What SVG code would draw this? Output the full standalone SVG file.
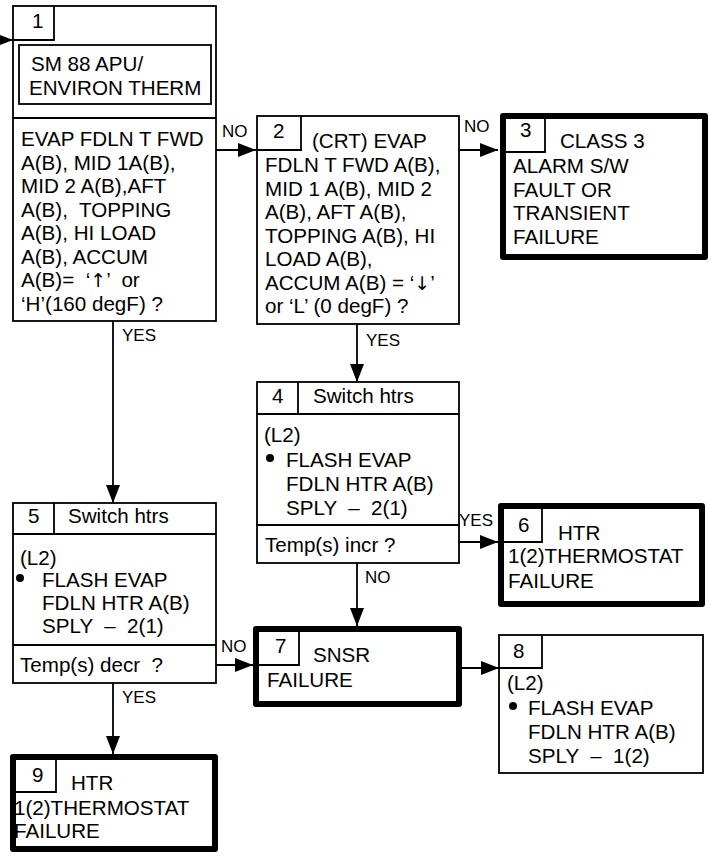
<svg xmlns="http://www.w3.org/2000/svg" width="711" height="856" viewBox="0 0 711 856">
<style>
text{font-family:"Liberation Sans",Arial,sans-serif;font-size:20.6px;fill:#000;white-space:pre}
.lbl{font-size:17px}
.ar{font-family:"DejaVu Sans",sans-serif;font-size:19px}
.b{fill:#fff;stroke:#000;stroke-width:1.8}
.n{fill:none;stroke:#000;stroke-width:1.8}
.t{fill:#fff;stroke:#000;stroke-width:6;stroke-linejoin:round}
.c{fill:none;stroke:#000;stroke-width:1.8}
</style>
<defs>
<marker id="ah" markerUnits="userSpaceOnUse" markerWidth="18" markerHeight="14" refX="18" refY="7" orient="auto">
<path d="M0,0 L18,7 L0,14 z" fill="#000"/>
</marker>
</defs>
<rect width="711" height="856" fill="#fff"/>
<g id="connectors">
<path class="c" d="M-5,40 H13" marker-end="url(#ah)"/>
<path class="c" d="M216,150 H256" marker-end="url(#ah)"/>
<text class="lbl" x="222" y="137">NO</text>
<path class="c" d="M459,150 H498" marker-end="url(#ah)"/>
<text class="lbl" x="464" y="132">NO</text>
<path class="c" d="M113,321 V503" marker-end="url(#ah)"/>
<text class="lbl" x="122" y="341">YES</text>
<path class="c" d="M357,324 V382" marker-end="url(#ah)"/>
<text class="lbl" x="366" y="346">YES</text>
<path class="c" d="M459,542 H498" marker-end="url(#ah)"/>
<text class="lbl" x="459" y="526">YES</text>
<path class="c" d="M357,563 V626" marker-end="url(#ah)"/>
<text class="lbl" x="365" y="583">NO</text>
<path class="c" d="M216,665 H253" marker-end="url(#ah)"/>
<text class="lbl" x="221" y="652">NO</text>
<path class="c" d="M113,683 V754" marker-end="url(#ah)"/>
<text class="lbl" x="122" y="703">YES</text>
<path class="c" d="M462,668 H499" marker-end="url(#ah)"/>
</g>
<g id="node1">
<rect class="b" x="13" y="6" width="203" height="315"/>
<path class="n" d="M13,40 H54 V6"/>
<text x="32" y="28">1</text>
<rect class="b" x="19" y="45" width="192" height="59"/>
<text x="31" y="71">SM 88 APU/</text>
<text x="29" y="95">ENVIRON THERM</text>
<path class="n" d="M13,118 H216"/>
<text x="21" y="146">EVAP FDLN T FWD</text>
<text x="21" y="169.5">A(B), MID 1A(B),</text>
<text x="21" y="193">MID 2 A(B),AFT</text>
<text x="21" y="216.5">A(B),  TOPPING</text>
<text x="21" y="240">A(B), HI LOAD</text>
<text x="21" y="263.5">A(B), ACCUM</text>
<text x="21" y="287">A(B)=  ‘<tspan class="ar">↑</tspan>’  or</text>
<text x="21" y="310.5">‘H’(160 degF) ?</text>
</g>
<g id="node2">
<rect class="b" x="257" y="116" width="202" height="208"/>
<path class="n" d="M257,150 H301 V116"/>
<text x="273" y="138">2</text>
<text x="312" y="148">(CRT) EVAP</text>
<text x="265" y="172">FDLN T FWD A(B),</text>
<text x="265" y="195.5">MID 1 A(B), MID 2</text>
<text x="265" y="219">A(B), AFT A(B),</text>
<text x="265" y="242.5">TOPPING A(B), HI</text>
<text x="265" y="266">LOAD A(B),</text>
<text x="265" y="289.5">ACCUM A(B) = ‘<tspan class="ar">↓</tspan>’</text>
<text x="265" y="313">or ‘L’ (0 degF) ?</text>
</g>
<g id="node3">
<rect class="t" x="503" y="116" width="202" height="141"/>
<path class="n" d="M506,152 H545 V119"/>
<text x="520" y="137">3</text>
<text x="560" y="148">CLASS 3</text>
<text x="513" y="173">ALARM S/W</text>
<text x="513" y="196.5">FAULT OR</text>
<text x="513" y="220">TRANSIENT</text>
<text x="513" y="243.5">FAILURE</text>
</g>
<g id="node4">
<rect class="b" x="257" y="382" width="202" height="181"/>
<path class="n" d="M298,382 V414 M257,414 H459 M257,525 H459"/>
<text x="272" y="403">4</text>
<text x="313" y="403">Switch htrs</text>
<text x="264" y="442">(L2)</text>
<circle cx="270" cy="458" r="4"/>
<text x="286" y="467">FLASH EVAP</text>
<text x="286" y="491">FDLN HTR A(B)</text>
<text x="286" y="515">SPLY  –  2(1)</text>
<text x="265" y="552">Temp(s) incr ?</text>
</g>
<g id="node5">
<rect class="b" x="13" y="503" width="203" height="180"/>
<path class="n" d="M54,503 V534 M13,534 H216 M13,645 H216"/>
<text x="28" y="523">5</text>
<text x="68" y="523">Switch htrs</text>
<text x="20" y="565">(L2)</text>
<circle cx="20" cy="578" r="4"/>
<text x="42" y="587">FLASH EVAP</text>
<text x="42" y="610">FDLN HTR A(B)</text>
<text x="42" y="633">SPLY  –  2(1)</text>
<text x="20" y="672">Temp(s) decr  ?</text>
</g>
<g id="node6">
<rect class="t" x="501" y="506" width="201" height="98"/>
<path class="n" d="M504,542 H542 V509"/>
<text x="518" y="532">6</text>
<text x="558" y="540">HTR</text>
<text x="508" y="563">1(2)THERMOSTAT</text>
<text x="508" y="588">FAILURE</text>
</g>
<g id="node7">
<rect class="t" x="256" y="629" width="203" height="75"/>
<path class="n" d="M259,665 H299 V632"/>
<text x="275" y="653">7</text>
<text x="313" y="662">SNSR</text>
<text x="267" y="687">FAILURE</text>
</g>
<g id="node8">
<rect class="b" x="499" y="635" width="204" height="138"/>
<path class="n" d="M499,668 H542 V635"/>
<text x="513" y="658">8</text>
<text x="507" y="690">(L2)</text>
<circle cx="513" cy="706" r="4"/>
<text x="528" y="715">FLASH EVAP</text>
<text x="528" y="739">FDLN HTR A(B)</text>
<text x="528" y="763">SPLY  –  1(2)</text>
</g>
<g id="node9">
<rect class="t" x="13" y="757" width="202" height="92"/>
<path class="n" d="M16,792 H56 V760"/>
<text x="32" y="782">9</text>
<text x="71" y="790">HTR</text>
<text x="14" y="815">1(2)THERMOSTAT</text>
<text x="14" y="838">FAILURE</text>
</g>
</svg>
